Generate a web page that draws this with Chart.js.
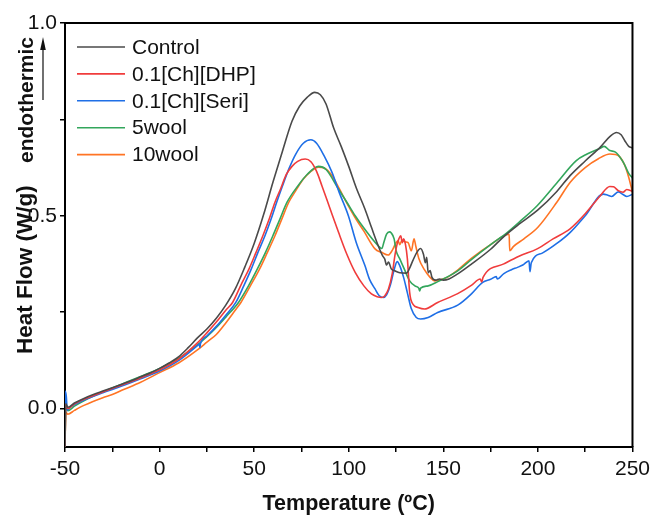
<!DOCTYPE html>
<html>
<head>
<meta charset="utf-8">
<script src="https://cdn.jsdelivr.net/npm/chart.js@4/dist/chart.umd.min.js"></script>
<style>
  html, body { margin: 0; padding: 0; background: #fff; }
  canvas { display: block; }
</style>
</head>
<body>
<canvas id="dscChart" width="655" height="517"></canvas>
<script>
// Series labels and colours
const seriesNames = ['Control', '0.1[Ch][DHP]', '0.1[Ch][Seri]', '5wool', '10wool'];
const seriesColors = ['#4a4a4a', '#f03c3c', '#1f6fe6', '#33a65c', '#ff7424'];

// Control
const controlTemp = [-50, -49.6, -48.5, -45, -40, -35, -30, -25, -20, -15, -10, -5,
    0, 5, 10, 15, 20, 25, 30, 35, 40, 45, 50, 55, 60, 65, 70,
    74, 78, 82, 85, 88, 92, 96, 100, 104,
    108.6, 112, 115.6, 118, 119, 120, 121, 122.5, 124.4, 127,
    130.5, 132, 134, 136, 138, 139.5, 140.5, 141.2, 142, 143, 144, 146, 148, 150, 153, 157.6,
    165, 175, 182, 190, 200, 210, 217, 225, 233, 238, 241.6, 244, 246, 248, 250];
const controlHF = [-0.1, 0.012, 0.003, 0.014, 0.026, 0.036, 0.045, 0.054, 0.063, 0.072, 0.082, 0.092,
    0.104, 0.118, 0.134, 0.157, 0.183, 0.206, 0.234, 0.268, 0.31, 0.366, 0.428, 0.503, 0.588, 0.668, 0.745,
    0.784, 0.807, 0.82, 0.814, 0.79, 0.728, 0.68, 0.628, 0.572,
    0.517, 0.47, 0.422, 0.395, 0.388, 0.372, 0.38, 0.362, 0.357, 0.352,
    0.351, 0.362, 0.385, 0.405, 0.415, 0.40, 0.378, 0.392, 0.352, 0.358, 0.34, 0.333, 0.336, 0.333, 0.336, 0.349,
    0.375, 0.413, 0.446, 0.478, 0.515, 0.563, 0.604, 0.642, 0.678, 0.705, 0.716, 0.71, 0.694, 0.68, 0.676];

// 0.1[Ch][DHP]
const dhpTemp = [-50, -49.6, -48.5, -45, -40, -30, -20, -10, 0, 10,
    20, 25, 30, 35, 38.6, 43, 47.3, 51, 54.6, 58,
    61, 64, 67, 70, 73, 77, 80, 83, 85.8, 90,
    94.6, 99, 103.4, 108, 112, 115, 117.3, 119, 121, 123,
    124.5, 125.5, 126.5, 127.5, 128.3, 129, 130, 131, 132.2, 134,
    136.6, 140, 147, 157.6, 165, 169.5, 170.3, 171, 182, 190,
    199.6, 208, 217, 225, 233, 238, 240, 242.5, 245, 247, 248.5, 250];
const dhpHF = [-0.1, 0.01, 0.0, 0.012, 0.024, 0.043, 0.061, 0.079, 0.1, 0.128,
    0.17, 0.196, 0.224, 0.255, 0.275, 0.32, 0.362, 0.405, 0.448, 0.492,
    0.535, 0.57, 0.607, 0.628, 0.641, 0.647, 0.64, 0.615, 0.578, 0.52,
    0.457, 0.40, 0.353, 0.318, 0.297, 0.29, 0.288, 0.292, 0.31, 0.35,
    0.40, 0.425, 0.44, 0.448, 0.43, 0.44, 0.425, 0.388, 0.301, 0.27,
    0.262, 0.258, 0.275, 0.298, 0.32, 0.336, 0.328, 0.34, 0.375, 0.395,
    0.414, 0.44, 0.466, 0.505, 0.552, 0.576, 0.575, 0.565, 0.561, 0.568, 0.566, 0.563];

// 0.1[Ch][Seri]
const seriTemp = [-50, -49.8, -49.3, -48.8, -48, -45, -40, -30, -20, -10,
    0, 10, 20, 21, 21.3, 21.6, 25, 30, 35, 40.3,
    44.5, 48.5, 52, 55.7, 59, 61.9, 65, 68.3, 72, 76,
    80, 83, 87, 91.1, 95, 99.8, 104, 108.6, 111, 113.9,
    116, 118.2, 120, 122, 124, 125.6, 127, 129, 131, 133,
    135.7, 138, 142, 147, 157.6, 165, 170.8, 175, 178, 178.5,
    182, 186, 189.2, 192, 195.3, 195.8, 196.5, 202.3, 210, 217.1,
    225, 234.6, 237, 239, 242.5, 245, 247, 250];
const seriHF = [-0.1, 0.045, 0.03, -0.005, 0.0, 0.01, 0.022, 0.041, 0.058, 0.077,
    0.097, 0.124, 0.163, 0.167, 0.158, 0.168, 0.188, 0.213, 0.242, 0.275,
    0.318, 0.362, 0.405, 0.448, 0.492, 0.535, 0.578, 0.621, 0.66, 0.688,
    0.697, 0.688, 0.655, 0.613, 0.56, 0.50, 0.43, 0.37, 0.335, 0.31,
    0.293, 0.288, 0.295, 0.32, 0.36, 0.381, 0.37, 0.34, 0.30, 0.26,
    0.236, 0.232, 0.236, 0.249, 0.268, 0.298, 0.327, 0.335, 0.342, 0.336,
    0.35, 0.36, 0.366, 0.372, 0.383, 0.355, 0.378, 0.403, 0.428, 0.457,
    0.5, 0.556, 0.553, 0.55, 0.562, 0.555, 0.55, 0.556];

// 5wool
const wool5Temp = [-50, -49.6, -48.5, -45, -40, -30, -20, -10, 0, 10,
    20, 25, 30, 35, 41.7, 47, 51.7, 56, 59.9, 63.5,
    67.4, 73.2, 78, 84, 88, 94.6, 99, 103.4, 108, 113.9,
    116, 117.5, 118.5, 120, 121.5, 122.5, 124, 125, 127, 129.5,
    132.2, 135, 137, 137.5, 138, 142, 147.1, 157.6, 165, 175,
    183.9, 190, 199.6, 210, 220.3, 226, 232.9, 235, 238, 241,
    245.1, 248, 250];
const wool5HF = [-0.1, 0.005, -0.006, 0.006, 0.02, 0.043, 0.063, 0.083, 0.104, 0.13,
    0.165, 0.186, 0.21, 0.237, 0.275, 0.318, 0.362, 0.405, 0.448, 0.49,
    0.535, 0.578, 0.607, 0.628, 0.62, 0.569, 0.535, 0.50, 0.468, 0.431,
    0.42, 0.415, 0.43, 0.452, 0.458, 0.455, 0.44, 0.41, 0.388, 0.36,
    0.331, 0.318, 0.312, 0.305, 0.312, 0.318, 0.329, 0.357, 0.387, 0.425,
    0.457, 0.483, 0.526, 0.585, 0.643, 0.66, 0.675, 0.68, 0.669, 0.665,
    0.639, 0.61, 0.598];

// 10wool
const wool10Temp = [-50, -49.6, -48.5, -45, -40, -30, -25, -20, -10, 0,
    10, 20, 25, 30, 35, 40, 43, 48, 52.9, 57,
    61, 64.5, 68.3, 72, 76, 80, 84, 87, 91, 95,
    99, 104, 108, 113.9, 117.3, 120.9, 123, 125, 126.1, 127,
    128, 130, 131.4, 133.1, 134.5, 135.5, 137, 140, 143, 145.4,
    147, 152, 157.6, 165, 175, 184.8, 185.1, 187, 192.6, 200,
    210, 217.1, 225, 232, 238.1, 241, 243.4, 246, 248, 250];
const wool10HF = [-0.1, -0.01, -0.015, -0.005, 0.008, 0.028, 0.036, 0.047, 0.068, 0.093,
    0.118, 0.152, 0.172, 0.192, 0.222, 0.255, 0.275, 0.318, 0.362, 0.405,
    0.448, 0.49, 0.535, 0.565, 0.595, 0.615, 0.626, 0.624, 0.605, 0.57,
    0.533, 0.49, 0.46, 0.414, 0.405, 0.398, 0.41, 0.43, 0.435, 0.425,
    0.435, 0.432, 0.43, 0.409, 0.44, 0.42, 0.39, 0.36, 0.34, 0.331,
    0.332, 0.34, 0.359, 0.39, 0.425, 0.452, 0.409, 0.42, 0.44, 0.47,
    0.535, 0.587, 0.625, 0.648, 0.66, 0.659, 0.652, 0.63, 0.6, 0.561];

// Axis ticks
const xTicks = [-50, -25, 0, 25, 50, 75, 100, 125, 150, 175, 200, 225, 250];
const xTickLabels = ['-50', '', '0', '', '50', '', '100', '', '150', '', '200', '', '250'];
const yTicks = [0, 0.25, 0.5, 0.75, 1.0];
const yTickLabels = ['0.0', '', '0.5', '', '1.0'];

const allTemps = [controlTemp, dhpTemp, seriTemp, wool5Temp, wool10Temp];
const allFlows = [controlHF, dhpHF, seriHF, wool5HF, wool10HF];

function toPoints(temps, flows) {
    return temps.map((t, i) => ({ x: t, y: flows[i] }));
}

const FONT = "'Liberation Sans', Arial, Helvetica, sans-serif";
Chart.defaults.font.family = FONT;
Chart.defaults.color = '#111';

// Draws rotated text (reading bottom to top) starting at yStart
function drawVerticalText(ctx, text, font, baseX, yStart) {
    ctx.save();
    ctx.font = font;
    ctx.fillStyle = '#111';
    ctx.textAlign = 'left';
    ctx.textBaseline = 'alphabetic';
    ctx.translate(baseX, yStart);
    ctx.rotate(-Math.PI / 2);
    ctx.fillText(text, 0, 0);
    ctx.restore();
}

const decorPlugin = {
    id: 'decor',
    afterDraw(chart) {
        const ctx = chart.ctx;
        const area = chart.chartArea;

        // top and right frame lines
        ctx.save();
        ctx.strokeStyle = '#000';
        ctx.lineWidth = 2;
        ctx.beginPath();
        ctx.moveTo(area.left, area.top);
        ctx.lineTo(area.right, area.top);
        ctx.lineTo(area.right, area.bottom);
        ctx.stroke();
        ctx.restore();

        // legend in the top left of the plot
        ctx.save();
        ctx.font = '21px ' + FONT;
        ctx.textBaseline = 'middle';
        ctx.textAlign = 'left';
        chart.data.datasets.forEach((ds, i) => {
            const y = 47 + i * 26.9;
            ctx.strokeStyle = ds.borderColor;
            ctx.lineWidth = 1.6;
            ctx.beginPath();
            ctx.moveTo(77, y);
            ctx.lineTo(125, y);
            ctx.stroke();
            ctx.fillStyle = '#111';
            ctx.fillText(ds.label, 132, y + 1);
        });
        ctx.restore();

        // y axis title with the endothermic arrow
        drawVerticalText(ctx, 'Heat Flow (W/g)', 'bold 22.5px ' + FONT, 32, 354);
        drawVerticalText(ctx, 'endothermic', 'bold 21px ' + FONT, 33, 163);

        ctx.save();
        ctx.strokeStyle = '#111';
        ctx.fillStyle = '#111';
        ctx.lineWidth = 1.2;
        ctx.beginPath();
        ctx.moveTo(43, 100);
        ctx.lineTo(43, 48);
        ctx.stroke();
        ctx.beginPath();
        ctx.moveTo(43, 37);
        ctx.lineTo(40.2, 50);
        ctx.lineTo(45.8, 50);
        ctx.closePath();
        ctx.fill();
        ctx.restore();
    }
};

const ctx = document.getElementById('dscChart').getContext('2d');
const dscChart = new Chart(ctx, {
    type: 'line',
    data: {
        datasets: seriesNames.map((name, i) => ({
            label: name,
            data: toPoints(allTemps[i], allFlows[i]),
            borderColor: seriesColors[i],
            backgroundColor: seriesColors[i],
            borderWidth: 1.6,
            pointRadius: 0,
            fill: false,
            cubicInterpolationMode: 'monotone'
        }))
    },
    options: {
        responsive: false,
        animation: false,
        devicePixelRatio: 1,
        layout: {
            padding: { top: 23, right: 19, left: 0, bottom: 0 }
        },
        plugins: {
            legend: { display: false },
            tooltip: { enabled: false }
        },
        scales: {
            x: {
                type: 'linear',
                min: -50,
                max: 250,
                afterBuildTicks: scale => {
                    scale.ticks = xTicks.map(v => ({ value: v }));
                },
                afterFit: scale => {
                    scale.height = 70;
                },
                ticks: {
                    autoSkip: false,
                    maxRotation: 0,
                    padding: 5,
                    font: { size: 21 },
                    color: '#111',
                    callback: (value, index) => xTickLabels[index]
                },
                grid: {
                    drawOnChartArea: false,
                    tickLength: 5,
                    color: '#000',
                    lineWidth: 1.5
                },
                border: { color: '#000', width: 2 },
                title: {
                    display: true,
                    text: 'Temperature (ºC)',
                    font: { size: 21.5, weight: 'bold' },
                    color: '#111',
                    padding: { top: 0, bottom: 0 }
                }
            },
            y: {
                min: -0.1,
                max: 1.0,
                afterBuildTicks: scale => {
                    scale.ticks = yTicks.map(v => ({ value: v }));
                },
                afterFit: scale => {
                    scale.width = 65;
                },
                ticks: {
                    padding: 3,
                    font: { size: 21 },
                    color: '#111',
                    callback: (value, index) => yTickLabels[index]
                },
                grid: {
                    drawOnChartArea: false,
                    tickLength: 5,
                    color: '#000',
                    lineWidth: 1.5
                },
                border: { color: '#000', width: 2 }
            }
        }
    },
    plugins: [decorPlugin]
});
</script>
</body>
</html>
